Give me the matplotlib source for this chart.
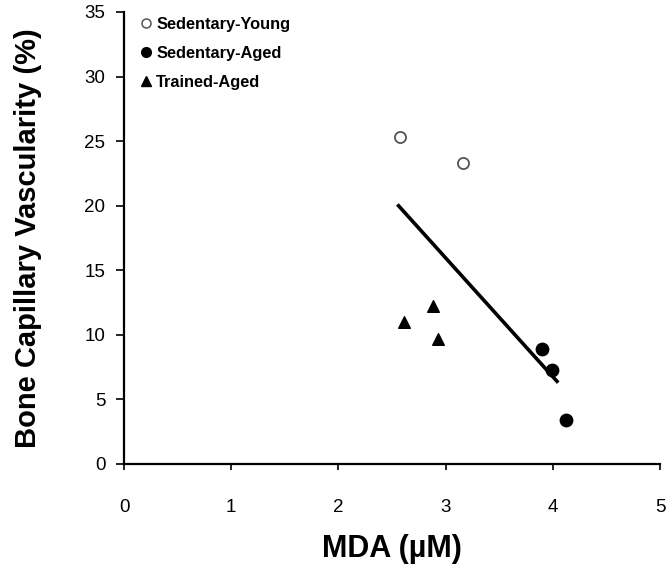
import matplotlib
matplotlib.use("Agg")
import matplotlib.pyplot as plt
from matplotlib.lines import Line2D

plt.rcParams['font.family'] = ['Liberation Sans', 'DejaVu Sans']
plt.rcParams['xtick.major.pad'] = 21
plt.rcParams['ytick.major.pad'] = 8
plt.rcParams['xtick.major.size'] = 4
plt.rcParams['ytick.major.size'] = 5.5
plt.rcParams['xtick.major.width'] = 1.2
plt.rcParams['ytick.major.width'] = 1.2
plt.rcParams['xtick.labelsize'] = 13.5
plt.rcParams['ytick.labelsize'] = 13.5

young_x = [2.57, 3.16]
young_y = [25.3, 23.3]
aged_x = [3.90, 3.99, 4.12]
aged_y = [8.9, 7.3, 3.4]
trained_x = [2.61, 2.88, 2.93]
trained_y = [11.0, 12.2, 9.7]
fit_x = [2.55, 4.05]
fit_y = [20.1, 6.3]

xticks = [0, 1, 2, 3, 4, 5]
yticks = [0, 5, 10, 15, 20, 25, 30, 35]
labels = ['Sedentary-Young', 'Sedentary-Aged', 'Trained-Aged']

W, H = 667, 571
fig = plt.figure(figsize=(W / 100, H / 100), dpi=100)
ax = fig.add_axes([124 / W, (H - 464) / H, 536 / W, 452 / H])

ax.plot(fit_x, fit_y, color='black', lw=2.6, solid_capstyle='butt')
ax.scatter(young_x, young_y, s=64, facecolors='white', edgecolors='#555555', linewidths=1.3, zorder=3)
ax.scatter(aged_x, aged_y, s=80, color='black', zorder=3)
ax.scatter(trained_x, trained_y, s=70, marker='^', color='black', zorder=3)

ax.set_xlim(0, 5)
ax.set_ylim(0, 35)
ax.set_xticks(xticks)
ax.set_yticks(yticks)
for s in ['top', 'right']:
    ax.spines[s].set_visible(False)
for s in ['left', 'bottom']:
    ax.spines[s].set_linewidth(1.6)

ax.set_xlabel('MDA (\u00b5M)', fontsize=22, fontweight='bold')
ax.xaxis.set_label_coords(0.5, -0.155)
ax.set_ylabel('Bone Capillary Vascularity (%)', fontsize=21, fontweight='bold')
ax.yaxis.set_label_coords(-0.153, 0.5)

handles = [
    Line2D([], [], marker='o', ls='', markerfacecolor='white', markeredgecolor='#555555', markersize=6.5, markeredgewidth=1.1),
    Line2D([], [], marker='o', ls='', color='black', markersize=7),
    Line2D([], [], marker='^', ls='', color='black', markersize=7),
]
fig.legend(handles, labels,
           loc='upper left', bbox_to_anchor=(139 / W, 1 - 17 / H), bbox_transform=fig.transFigure,
           frameon=False, prop={'weight': 'bold', 'size': 11.8}, handletextpad=0.25,
           handlelength=0.8, labelspacing=0.85, borderpad=0, borderaxespad=0)

fig.savefig('out.png', dpi=100)
